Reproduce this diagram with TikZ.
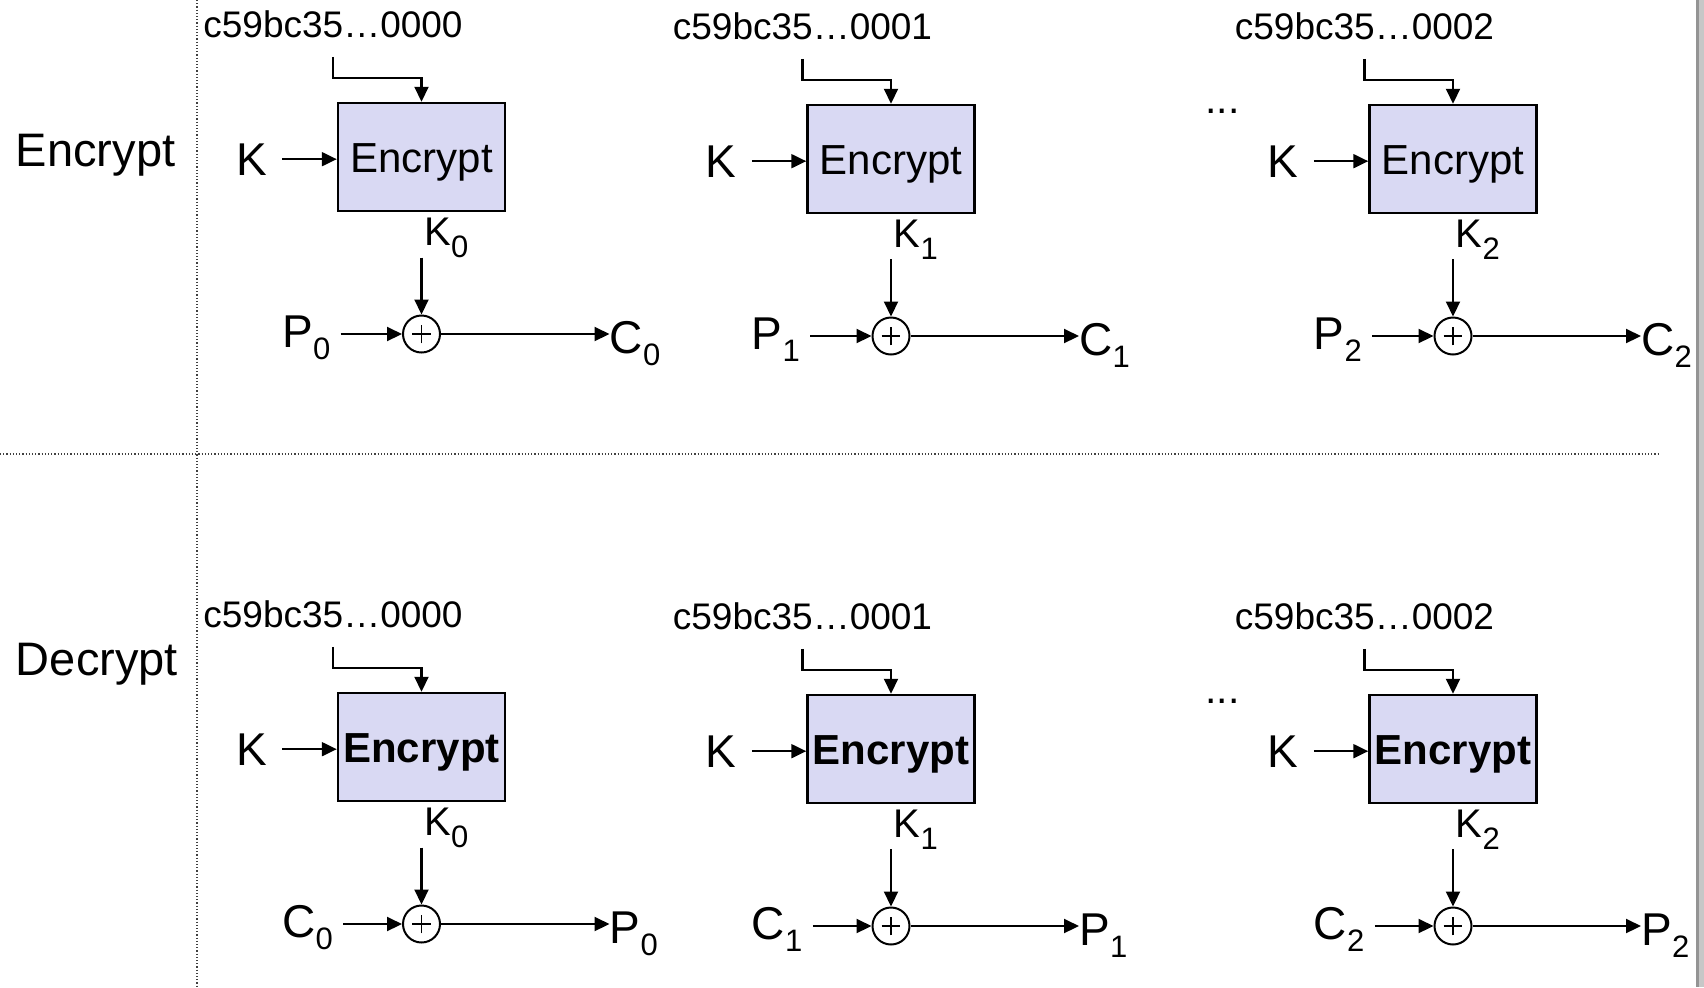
\documentclass[tikz,border=0pt]{standalone}
\usepackage{fontspec}
\setmainfont{Liberation Sans}
\usetikzlibrary{arrows.meta,calc}
\definecolor{boxfill}{RGB}{217,217,243}
\newcommand{\sbs}[1]{\raisebox{-6pt}{\fontsize{15.5}{15.5}\selectfont #1}}
\newcommand{\stage}[8]{%
  % #1 prefix, #2 cx, #3 cy, #4 index, #5 input letter, #6 output letter, #7 box font, #8 unused
  \node[box,font=#7] (#1b) at (#2,#3) {Encrypt};
  \node[hexlbl,anchor=base west] (#1h) at ({#2-218.5},{#3-120}) {c59bc35…000#4};
  \node[big,anchor=base west] (#1k) at ({#2-185.5},{#3+18}) {K};
  \node[mid,anchor=base west] (#1ki) at ({#2+2.5},{#3+88}) {K\sbs{#4}};
  \node[xor] (#1x) at (#2,{#3+177}) {};
  \node[big,anchor=base west] (#1i) at ({#2-139.5},{#3+190}) {#5\sbs{#4}};
  \node[big,anchor=base west] (#1o) at ({#2+188},{#3+196}) {#6\sbs{#4}};
  \draw[arr,shorten <=9.5pt] (#1h.south) |- ([yshift=12pt]#1b.north) -- (#1b.north);
  \draw[arr,shorten <=7.5pt] (#1k.east) -- (#1k.east -| #1b.west);
  \draw[arr] (#1ki.south -| #1x.north) -- (#1x.north);
  \draw[arr,shorten <=5pt] (#1i.east |- #1x.west) -- (#1x.west);
  \draw[arr] (#1x.east) -- (#1x.east -| #1o.west);
}
\begin{document}
\begin{tikzpicture}[x=0.5pt,y=-0.5pt,
  box/.style={rectangle,draw,line width=1.25pt,fill=boxfill,minimum width=83.5pt,minimum height=54pt,inner sep=0pt,text height=15pt,text depth=0pt},
  big/.style={inner sep=0pt,font=\fontsize{23}{23}\selectfont},
  mid/.style={inner sep=0pt,font=\fontsize{20}{20}\selectfont},
  hexlbl/.style={inner sep=0pt,font=\fontsize{18.5}{18.5}\selectfont},
  rowlbl/.style={inner sep=0pt,font=\fontsize{23.5}{23.5}\selectfont},
  arr/.style={-{Triangle[length=7.5pt,width=7pt]},line width=1.05pt},
  xor/.style={circle,draw,line width=1pt,minimum size=18.5pt,inner sep=0pt,fill=white,
    path picture={\draw[line width=0.6pt]
      ([xshift=-4.7pt]path picture bounding box.center) -- ([xshift=4.7pt]path picture bounding box.center)
      ([yshift=-4.7pt]path picture bounding box.center) -- ([yshift=4.7pt]path picture bounding box.center);}},
  sep/.style={densely dotted,line width=0.6pt,black!75}
]
\fill[white] (0,0) rectangle (1704,987);
\path[use as bounding box] (0,0) rectangle (1704,987);
% right edge bar
\fill[black!42] (1696,0) rectangle (1699,987);
\fill[black!22] (1699,0) rectangle (1704,987);
% separators
\coordinate (vtop) at (197,0);
\coordinate (vbot) at (197,987);
\coordinate (hl) at (0,454);
\coordinate (hr) at (1660,454);
\draw[sep] (vtop) -- (vbot);
\draw[sep] (hl) -- (hr);
% row labels
\node[rowlbl,anchor=base west] (encl) at (15.6,166) {Encrypt};
\node[rowlbl,anchor=base west] (decl) at (15.6,675) {Decrypt};
% encrypt row
\stage{ea}{421.5}{157}{0}{P}{C}{\fontsize{21}{21}\selectfont}{}
\stage{eb}{891}{159}{1}{P}{C}{\fontsize{21}{21}\selectfont}{}
\stage{ec}{1453}{159}{2}{P}{C}{\fontsize{21}{21}\selectfont}{}
% decrypt row
\stage{da}{421.5}{747}{0}{C}{P}{\fontsize{21}{21}\selectfont\bfseries}{}
\stage{db}{891}{749}{1}{C}{P}{\fontsize{21}{21}\selectfont\bfseries}{}
\stage{dc}{1453}{749}{2}{C}{P}{\fontsize{21}{21}\selectfont\bfseries}{}
% ellipses
\node[inner sep=0pt,font=\fontsize{20.5}{20.5}\selectfont,anchor=base west] (edots) at (1205,113) {...};
\node[inner sep=0pt,font=\fontsize{20.5}{20.5}\selectfont,anchor=base west] (ddots) at (1205,703) {...};
\end{tikzpicture}
\end{document}
